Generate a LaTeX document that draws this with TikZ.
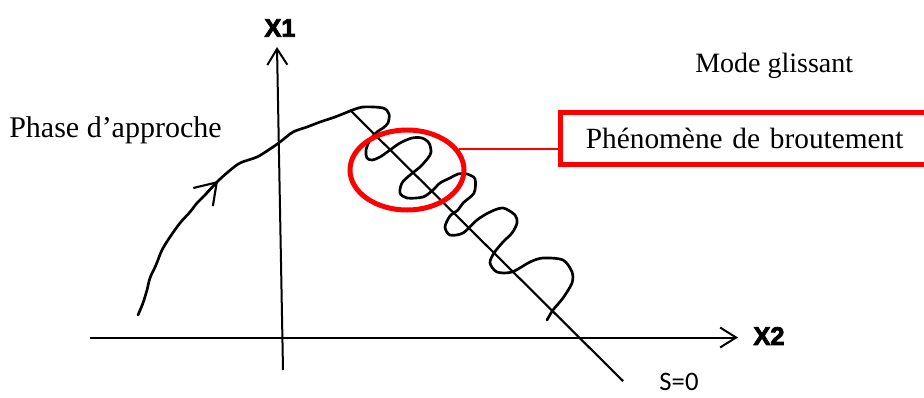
\documentclass[tikz,border=0pt]{standalone}
\usepackage{fontspec}
\setmainfont{Liberation Serif}
\newfontfamily\axisfont[FakeBold=3.5]{Liberation Sans Bold}
\newfontfamily\surffont{Carlito}
\usetikzlibrary{arrows.meta,shapes.geometric}

\begin{document}
\begin{tikzpicture}[
  x=0.75pt,y=-0.75pt,
  font=\fontsize{21}{24}\selectfont,
  barb/.tip={Straight Barb[length=12pt,width=15pt]},
  bigbarb/.tip={Straight Barb[length=15pt,width=20pt]},
  axis/.style={line width=1.5pt,-barb},
  axislabel/.style={font=\axisfont\fontsize{19}{21}\selectfont,inner sep=0pt},
  label/.style={anchor=base west,inner sep=0pt},
  hand/.style={line width=2pt,line join=round,line cap=round},
  zone/.style={ellipse,draw=red,line width=3.75pt,inner sep=0pt,
    minimum width=85.5pt,minimum height=60pt},
  alertbox/.style={draw=red,line width=3.75pt,fill=white,anchor=west,
    text width=247pt,align=left,inner xsep=19pt,minimum height=39pt,
    font=\fontsize{22}{24}\selectfont},
  link/.style={draw=red,line width=1.5pt}
]
\useasboundingbox (0,0) rectangle (924,397);
% axes
\coordinate (origin1) at (283,370);
\coordinate (top1) at (277,47);
\coordinate (origin2) at (90,337.5);
\coordinate (end2) at (738,337.5);
\draw[axis] (origin1) -- (top1);
\draw[axis] (origin2) -- (end2);
\node[axislabel] (xone) at (280,28) {X1};
\node[axislabel] (xtwo) at (769,336) {X2};
% sliding surface
\coordinate (stop) at (350,110);
\coordinate (sbot) at (623,381);
\draw[line width=1.6pt] (stop) -- (sbot);
\node[font=\surffont\fontsize{20}{22}\selectfont,inner sep=0pt] (surf) at (679,382) {S=0};
% approach phase
\coordinate (back) at (205,195);
\coordinate (mid) at (218,181);
\draw[hand] plot[smooth,tension=0.5] coordinates {(138,315) (143,303) (147,290)
  (150,278) (156,265) (162,250) (170,237) (180,223) (190,212) (197,203) (back)
  (217,182) (228,172) (240,163) (257,157) (270,149) (280,142) (293,132) (307,127)
  (320,122) (335,117) (350,111)};
\draw[line width=1.6pt,-bigbarb] (back) -- (mid);
% chattering
\draw[hand] plot[smooth,tension=0.5] coordinates {(350,111) (363,107) (383,108)
  (389,114) (388,123) (383,128) (377,132) (370,140) (366,150) (367,158)
  (372,160) (380,157) (390,150) (400,143) (412,138) (422,138) (429,143)
  (431,152) (428,158) (420,167) (410,175) (402,183) (400,193) (407,198)
  (423,197) (433,190) (440,183) (450,178) (458,174) (467,174) (475,179)
  (474,193) (463,203) (458,210) (450,216) (445,227) (450,235) (463,233)
  (477,220) (490,212) (503,208) (515,215) (517,223) (512,233) (503,242)
  (494,253) (490,263) (497,272) (512,272) (530,262) (543,258) (563,260)
  (572,272) (572,283) (563,298) (553,310) (547,320)};
% labels
\node[label,font=\fontsize{22.5}{24}\selectfont] (approach) at (9,137) {Phase d’approche};
\node[label] (sliding) at (695,72) {Mode glissant};
\node[zone] (zone) at (407,170) {};
\node[alertbox] (chatbox) at (558,138.5) {Phénomène de broutement};
\draw[link] (zone.22) -- (zone.22 -| chatbox.west);
\end{tikzpicture}
\end{document}
